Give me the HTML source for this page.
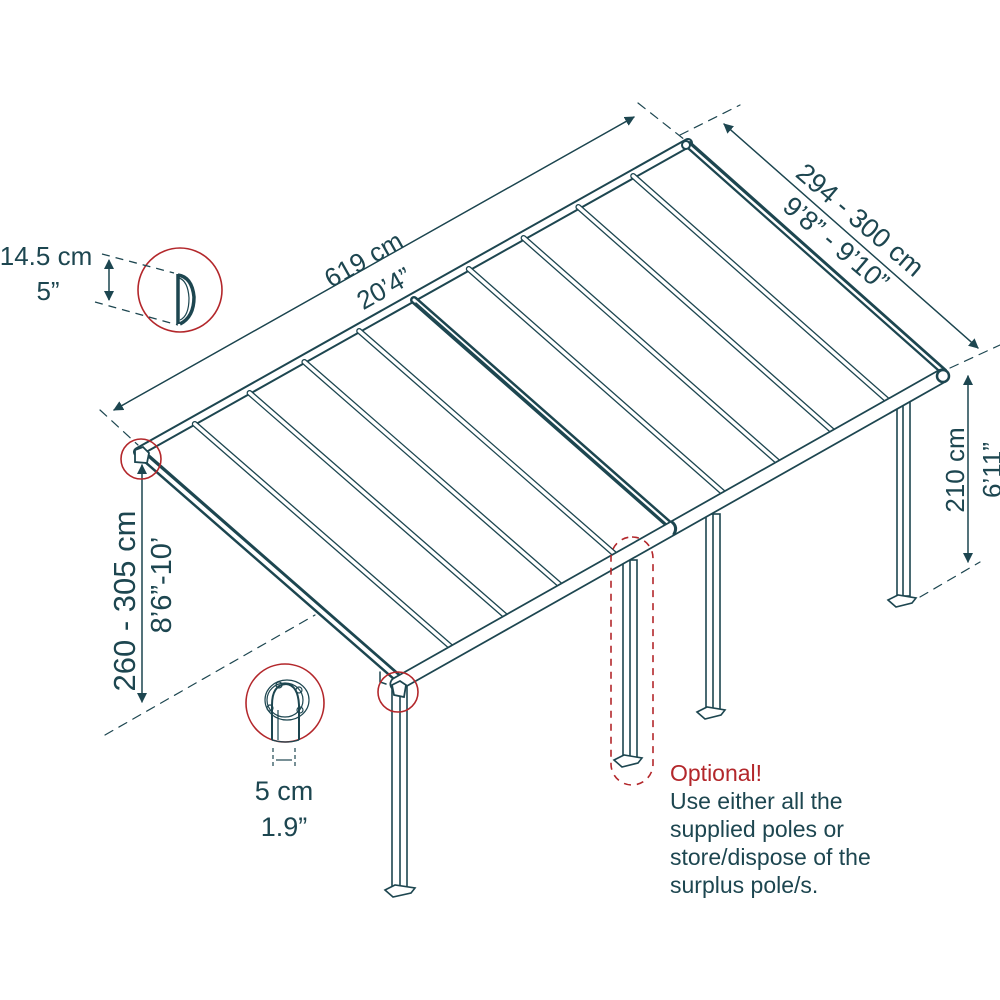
<!DOCTYPE html>
<html><head><meta charset="utf-8"><style>
html,body{margin:0;padding:0;background:#fff;}
svg{display:block;}
text{font-family:"Liberation Sans",sans-serif;fill:#1d4650;font-weight:300;}
</style></head><body>
<svg width="1000" height="1000" viewBox="0 0 1000 1000" xmlns="http://www.w3.org/2000/svg">
<defs>
<marker id="a" markerWidth="10" markerHeight="10" refX="9" refY="5" orient="auto" markerUnits="userSpaceOnUse"><path d="M0,0 L10,5 L0,10 z" fill="#1d4650"/></marker>
</defs>
<g stroke="#1d4650" fill="none" stroke-linecap="round">
<g stroke-width="1.2" stroke-dasharray="9,7">
<line x1="100" y1="410" x2="138" y2="445"/>
<line x1="638" y1="103" x2="685" y2="140"/>
<line x1="680" y1="135" x2="740" y2="105"/>
<line x1="950" y1="368" x2="1000" y2="345"/>
<line x1="920" y1="597" x2="980" y2="562"/>
<line x1="105" y1="735" x2="315" y2="615"/>
</g>
<g stroke-width="1.3">
<line x1="634" y1="117" x2="114" y2="410" marker-end="url(#a)"/>
<line x1="114" y1="410" x2="634" y2="117" marker-end="url(#a)"/>
<line x1="978" y1="348" x2="724" y2="124" marker-end="url(#a)"/>
<line x1="724" y1="124" x2="978" y2="348" marker-end="url(#a)"/>
<line x1="968" y1="560" x2="968" y2="376" marker-end="url(#a)"/>
<line x1="968" y1="376" x2="968" y2="562" marker-end="url(#a)"/>
<line x1="142" y1="700" x2="142" y2="465" marker-end="url(#a)"/>
<line x1="142" y1="465" x2="142" y2="702" marker-end="url(#a)"/>
</g>
<g stroke-width="1.6" fill="#fff">
<rect x="897" y="400" width="13" height="196"/><line x1="903" y1="400" x2="903" y2="596"/>
<rect x="706" y="514" width="14" height="196"/><line x1="713" y1="514" x2="713" y2="710"/>
<rect x="623" y="560" width="14" height="198"/><line x1="630" y1="560" x2="630" y2="758"/>
<rect x="392" y="686" width="15" height="202"/><line x1="400" y1="686" x2="400" y2="888"/>
</g>
<g stroke-width="1.6" fill="#fff">
<path d="M888,600 l10,-5 l18,3 l-4,5 l-16,4 z"/>
<path d="M697,712 l10,-5 l18,3 l-4,5 l-16,4 z"/>
<path d="M614,760 l10,-5 l18,3 l-4,5 l-16,4 z"/>
<path d="M385,890 l10,-5 l20,3 l-4,5 l-18,4 z"/>
</g>
<line x1="138" y1="452" x2="688" y2="143" stroke-width="10"/>
<line x1="138" y1="452" x2="688" y2="143" stroke-width="6" stroke="#fff"/>
<g>
<g stroke-width="6">
<line x1="194.8" y1="424" x2="454.5" y2="650"/>
<line x1="249.6" y1="393" x2="509" y2="619"/>
<line x1="304.4" y1="362" x2="563.5" y2="588"/>
<line x1="359.2" y1="331" x2="618" y2="557"/>
<line x1="468.8" y1="269" x2="727" y2="496"/>
<line x1="523.6" y1="238" x2="781.5" y2="465"/>
<line x1="578.4" y1="207" x2="836" y2="434"/>
<line x1="633.2" y1="176" x2="890.5" y2="403"/>
</g>
<g stroke-width="3.4" stroke="#fff">
<line x1="194.8" y1="424" x2="454.5" y2="650"/>
<line x1="249.6" y1="393" x2="509" y2="619"/>
<line x1="304.4" y1="362" x2="563.5" y2="588"/>
<line x1="359.2" y1="331" x2="618" y2="557"/>
<line x1="468.8" y1="269" x2="727" y2="496"/>
<line x1="523.6" y1="238" x2="781.5" y2="465"/>
<line x1="578.4" y1="207" x2="836" y2="434"/>
<line x1="633.2" y1="176" x2="890.5" y2="403"/>
</g>
<line x1="414" y1="300" x2="672" y2="527" stroke-width="8"/>
<line x1="414" y1="300" x2="672" y2="527" stroke-width="3" stroke="#fff"/>
<line x1="416" y1="303" x2="672" y2="529" stroke-width="1.5"/>
<line x1="142" y1="455" x2="400" y2="680" stroke-width="9"/>
<line x1="142" y1="455" x2="400" y2="680" stroke-width="4" stroke="#fff"/>
<line x1="145" y1="452" x2="402" y2="677" stroke-width="2.2"/>
<line x1="688" y1="145" x2="945" y2="373" stroke-width="7"/>
<line x1="688" y1="145" x2="945" y2="373" stroke-width="2.5" stroke="#fff"/>
<line x1="690" y1="142" x2="946" y2="370" stroke-width="2"/>
</g>
<line x1="397" y1="684" x2="942" y2="376" stroke-width="15"/>
<line x1="397" y1="684" x2="942" y2="376" stroke-width="11.5" stroke="#fff"/>
<circle cx="943" cy="376" r="6" stroke-width="2.5" fill="#fff"/>
<circle cx="686" cy="145" r="4" stroke-width="2" fill="#fff"/>
<path d="M672,522 q6,5 2,12" stroke-width="3"/>
<path d="M135,450 l8,-3 l6,6 l-2,10 l-12,-1 z" stroke-width="1.8" fill="#fff"/>
<path d="M392,685 l8,-4 l6,4 l-2,12 l-10,-2 z" stroke-width="1.8" fill="#fff"/>
<path d="M380,672 l0,10 l6,2" stroke-width="1.5"/>
</g>
<g stroke="#b3272b" fill="none" stroke-width="1.6">
<circle cx="141" cy="459" r="20"/>
<circle cx="398" cy="692" r="20"/>
<circle cx="180" cy="290" r="42"/>
<circle cx="285" cy="703" r="39"/>
<rect x="611" y="537" width="42" height="248" rx="21" stroke-dasharray="7,6"/>
</g>
<g stroke="#1d4650" fill="none" stroke-width="1.3">
<line x1="102" y1="254" x2="174" y2="273" stroke-dasharray="8,6"/>
<line x1="95" y1="302" x2="178" y2="325" stroke-dasharray="8,6"/>
<line x1="109" y1="262" x2="109" y2="300" marker-end="url(#a)"/>
<line x1="109" y1="300" x2="109" y2="260" marker-end="url(#a)"/>
<path d="M178,274 L178,324 M178,275 q14,2 16,22 q0,20 -14,27" stroke-width="3.5"/>
<path d="M179,278 q9,3 10,20 q0,18 -9,22" stroke-width="1.2"/>
</g>
<g stroke="#1d4650" fill="none" stroke-width="1.2">
<ellipse cx="287" cy="700" rx="22" ry="20"/>
<ellipse cx="285" cy="700" rx="18" ry="17"/>
<path d="M272,740 L272,705 q0,-20 14,-21 q12,1 13,21 L299,740" stroke-width="2"/>
<path d="M272,740 q14,4 27,0"/>
<line x1="278" y1="710" x2="278" y2="740"/>
<circle cx="279" cy="685" r="3"/><circle cx="299" cy="690" r="3"/><circle cx="270" cy="708" r="3"/><circle cx="300" cy="710" r="3"/>
<line x1="273" y1="748" x2="273" y2="768" stroke-dasharray="4,3"/>
<line x1="295" y1="748" x2="295" y2="768" stroke-dasharray="4,3"/>
<line x1="276" y1="760" x2="292" y2="760"/>
</g>
<text x="365" y="268" font-size="26" text-anchor="middle" transform="rotate(-29.5 365 262)">619 cm</text>
<text x="385" y="297" font-size="26" text-anchor="middle" transform="rotate(-29.5 385 290)">20’4”</text>
<text x="860" y="229" font-size="27" text-anchor="middle" transform="rotate(40.5 860 220)">294 - 300 cm</text>
<text x="836" y="253" font-size="27" text-anchor="middle" transform="rotate(40.5 836 244)">9’8” - 9’10”</text>
<text x="955" y="479" font-size="26" text-anchor="middle" transform="rotate(-90 955 470)">210 cm</text>
<text x="992" y="479" font-size="26" text-anchor="middle" transform="rotate(-90 992 470)">6’11”</text>
<text x="125" y="611" font-size="31" text-anchor="middle" transform="rotate(-90 125 601)">260 - 305 cm</text>
<text x="161" y="595" font-size="29" text-anchor="middle" transform="rotate(-90 161 585)">8’6”-10’</text>
<text x="46" y="265" font-size="26" text-anchor="middle">14.5 cm</text>
<text x="48" y="300" font-size="26" text-anchor="middle">5”</text>
<text x="284" y="800" font-size="27" text-anchor="middle">5 cm</text>
<text x="284" y="836" font-size="27" text-anchor="middle">1.9”</text>
<text x="670" y="781" font-size="23" style="fill:#b3272b">Optional!</text>
<text x="670" y="809" font-size="23">Use either all the</text>
<text x="670" y="837" font-size="23">supplied poles or</text>
<text x="670" y="865" font-size="23">store/dispose of the</text>
<text x="670" y="893" font-size="23">surplus pole/s.</text>
</svg>
</body></html>
